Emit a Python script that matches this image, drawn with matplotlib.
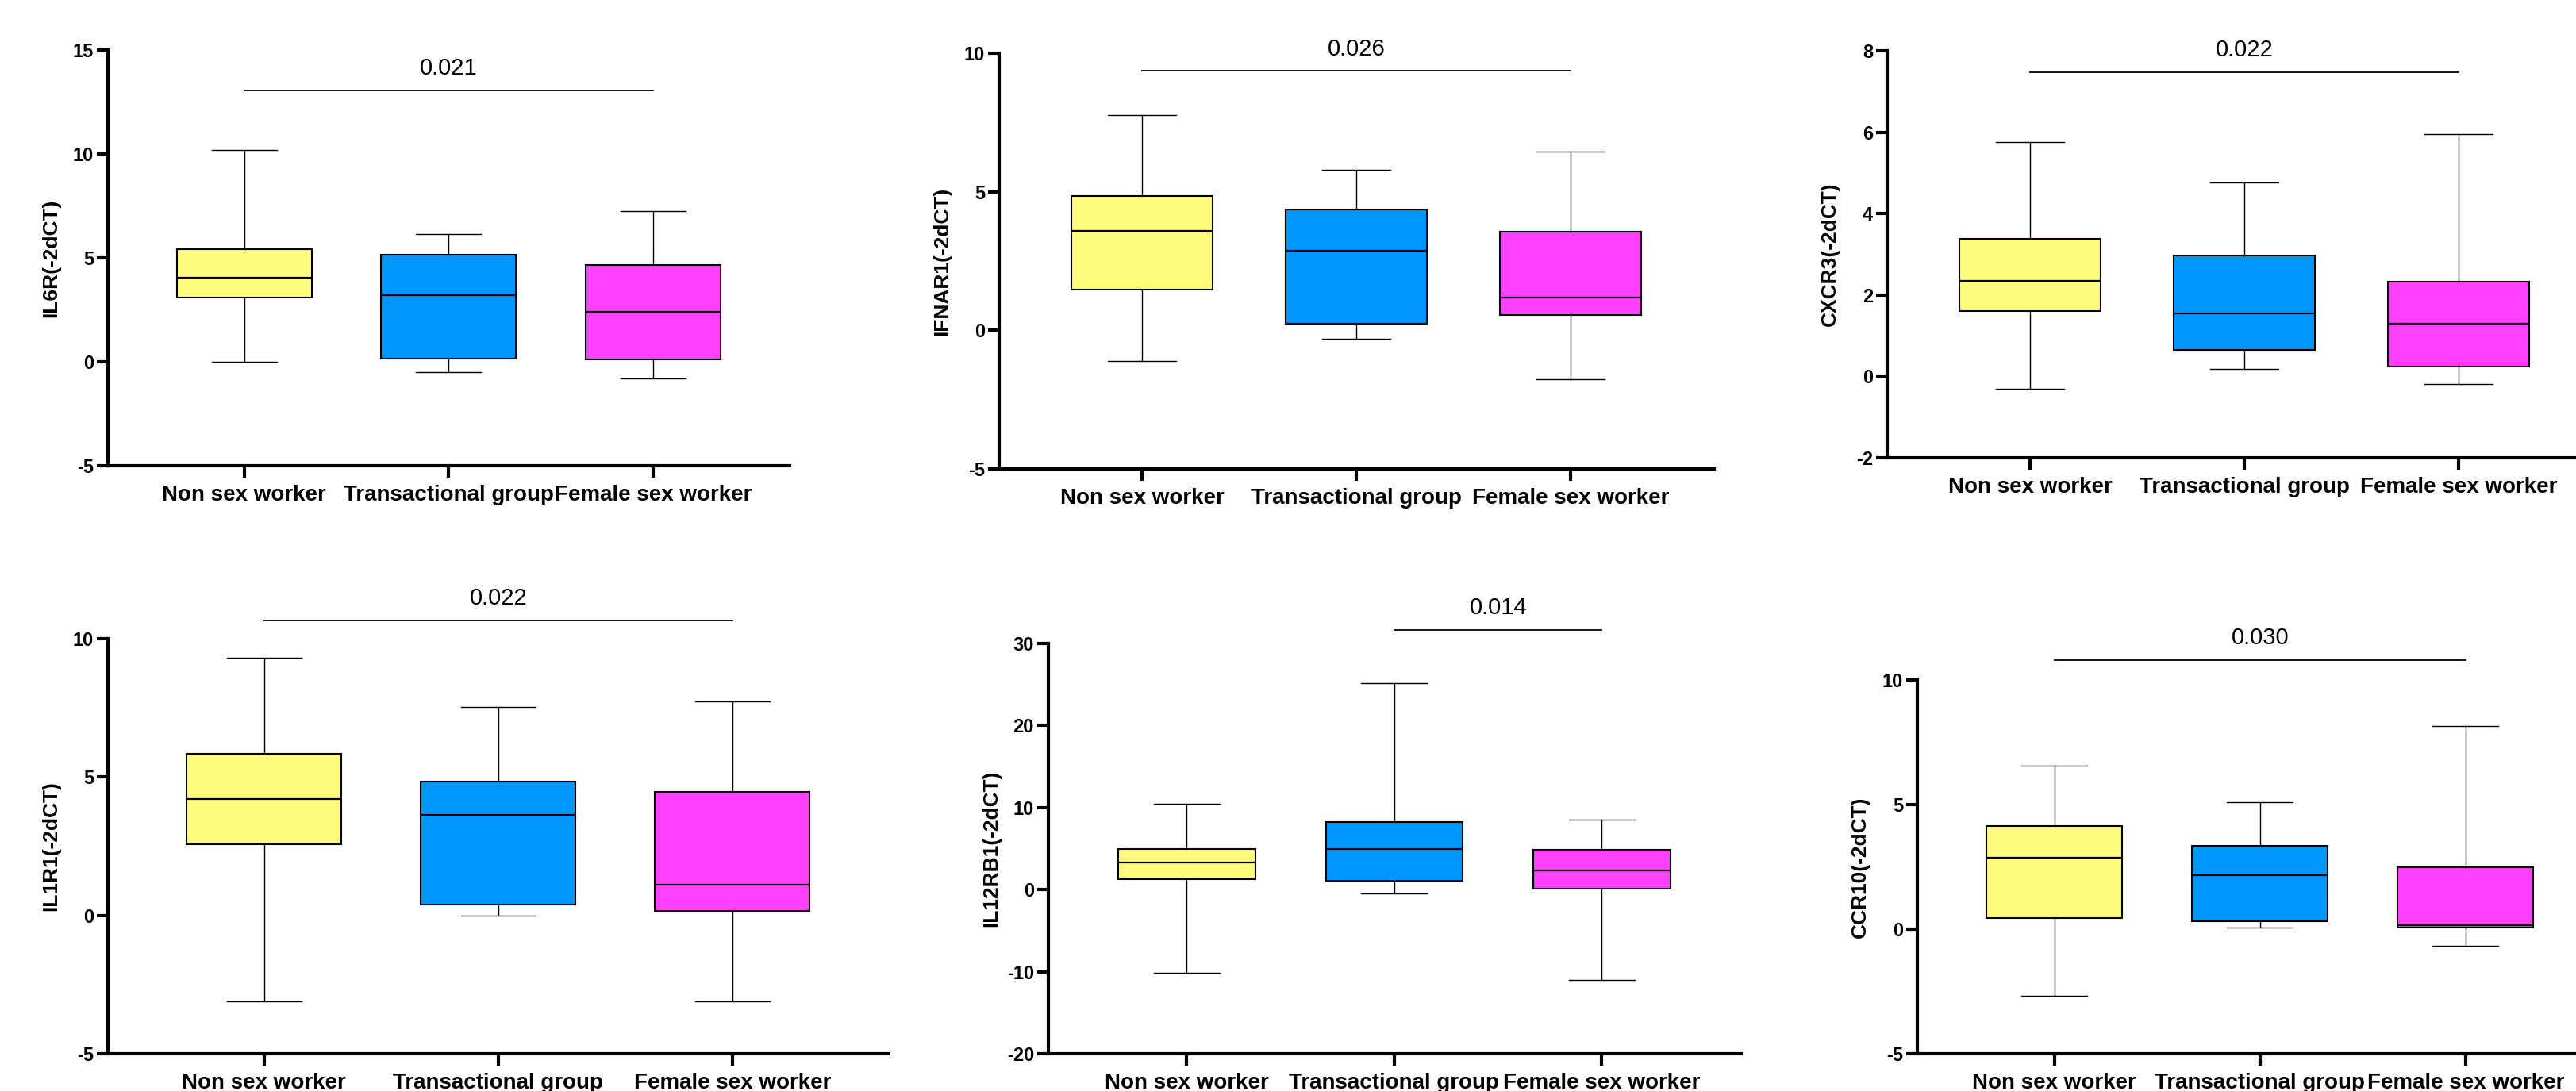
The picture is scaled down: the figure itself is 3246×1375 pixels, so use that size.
import matplotlib
matplotlib.use('Agg')
import matplotlib.pyplot as plt
from matplotlib.transforms import offset_copy

plt.rcParams['font.family'] = ['Liberation Sans', 'DejaVu Sans']
plt.rcParams['axes.unicode_minus'] = False

groups = ['Non sex worker', 'Transactional group', 'Female sex worker']
colors = ['#FFFB7F', '#0096FF', '#FF40FF']

# five-number summaries per group: [whisker low, Q1, median, Q3, whisker high]
il6r = [[0.01, 3.08, 4.06, 5.41, 10.18], [-0.49, 0.14, 3.22, 5.17, 6.15], [-0.79, 0.12, 2.42, 4.67, 7.26]]
ifnar1 = [[-1.12, 1.47, 3.59, 4.86, 7.78], [-0.31, 0.24, 2.87, 4.36, 5.78], [-1.77, 0.55, 1.17, 3.55, 6.45]]
cxcr3 = [[-0.31, 1.60, 2.35, 3.38, 5.76], [0.18, 0.66, 1.54, 2.98, 4.76], [-0.18, 0.24, 1.30, 2.33, 5.96]]
il1r1 = [[-3.10, 2.57, 4.21, 5.85, 9.32], [0.00, 0.40, 3.62, 4.83, 7.53], [-3.12, 0.15, 1.11, 4.46, 7.74]]
il12rb1 = [[-10.17, 1.25, 3.33, 4.96, 10.46], [-0.42, 1.08, 4.96, 8.25, 25.13], [-11.04, 0.13, 2.38, 4.83, 8.54]]
ccr10 = [[-2.68, 0.43, 2.88, 4.15, 6.57], [0.06, 0.31, 2.16, 3.33, 5.10], [-0.68, 0.06, 0.15, 2.48, 8.16]]

genes = ['IL6R', 'IFNAR1', 'CXCR3', 'IL1R1', 'IL12RB1', 'CCR10']
summaries = [il6r, ifnar1, cxcr3, il1r1, il12rb1, ccr10]
p_values = ['0.021', '0.026', '0.022', '0.022', '0.014', '0.030']
p_pairs = [(0, 2), (0, 2), (0, 2), (0, 2), (1, 2), (0, 2)]
p_heights = [13.07, 9.36, 7.48, 10.67, 31.67, 10.81]
y_ticks = [[-5, 0, 5, 10, 15], [-5, 0, 5, 10], [-2, 0, 2, 4, 6, 8],
           [-5, 0, 5, 10], [-20, -10, 0, 10, 20, 30], [-5, 0, 5, 10]]

W, H = 3246, 1375
# panel placement in pixels: left edge, spacing between groups, top, bottom
panels = [(136, 257.5, 63, 587), (1259, 270, 67, 591), (2378, 270, 64, 577),
          (136, 295, 805, 1328), (1321, 261.5, 811, 1328), (2416, 259, 857, 1328)]
x_lo, x_hi = -0.667, 2.67

fig = plt.figure(figsize=(W / 100, H / 100), dpi=100)

for i, gene in enumerate(genes):
    left, step, top, bottom = panels[i]
    width = (x_hi - x_lo) * step
    ax = fig.add_axes([left / W, 1 - bottom / H, width / W, (bottom - top) / H])

    stats = []
    for g, s in zip(groups, summaries[i]):
        stats.append({'label': g, 'whislo': s[0], 'q1': s[1], 'med': s[2], 'q3': s[3], 'whishi': s[4]})
    bp = ax.bxp(stats, positions=[0, 1, 2], widths=0.66, capwidths=0.32, patch_artist=True,
                showfliers=False,
                boxprops=dict(linewidth=1.5, edgecolor='black'),
                whiskerprops=dict(linewidth=1.0, color='black'),
                capprops=dict(linewidth=1.0, color='black'),
                medianprops=dict(linewidth=1.6, color='black'))
    for patch, c in zip(bp['boxes'], colors):
        patch.set_facecolor(c)

    ax.set_xlim(x_lo, x_hi)
    ax.set_ylim(y_ticks[i][0], y_ticks[i][-1])
    ax.set_yticks(y_ticks[i])
    ax.set_xticks([0, 1, 2])
    ax.set_xticklabels(groups, fontsize=20, fontweight='bold')
    for lab in ax.get_yticklabels():
        lab.set_fontsize(17)
        lab.set_fontweight('bold')

    for side in ['top', 'right']:
        ax.spines[side].set_visible(False)
    for side in ['left', 'bottom']:
        ax.spines[side].set_linewidth(3.0)
    ax.tick_params(axis='y', length=10, width=3.0, pad=3)
    ax.tick_params(axis='x', length=11, width=3.0, pad=6)

    ax.set_ylabel(gene + '(-2dCT)', fontsize=19, fontweight='bold')
    ax.yaxis.set_label_coords(0, 0.5, transform=offset_copy(ax.transAxes, fig=fig, x=-60, y=0, units='dots'))

    a, b = p_pairs[i]
    y = p_heights[i]
    ax.plot([a, b], [y, y], color='black', linewidth=1.3, clip_on=False)
    ax.annotate(p_values[i], xy=((a + b) / 2, y), xytext=(0, 20), textcoords='offset points',
                ha='center', va='center', fontsize=21, annotation_clip=False)

fig.savefig('out.png', dpi=100)
